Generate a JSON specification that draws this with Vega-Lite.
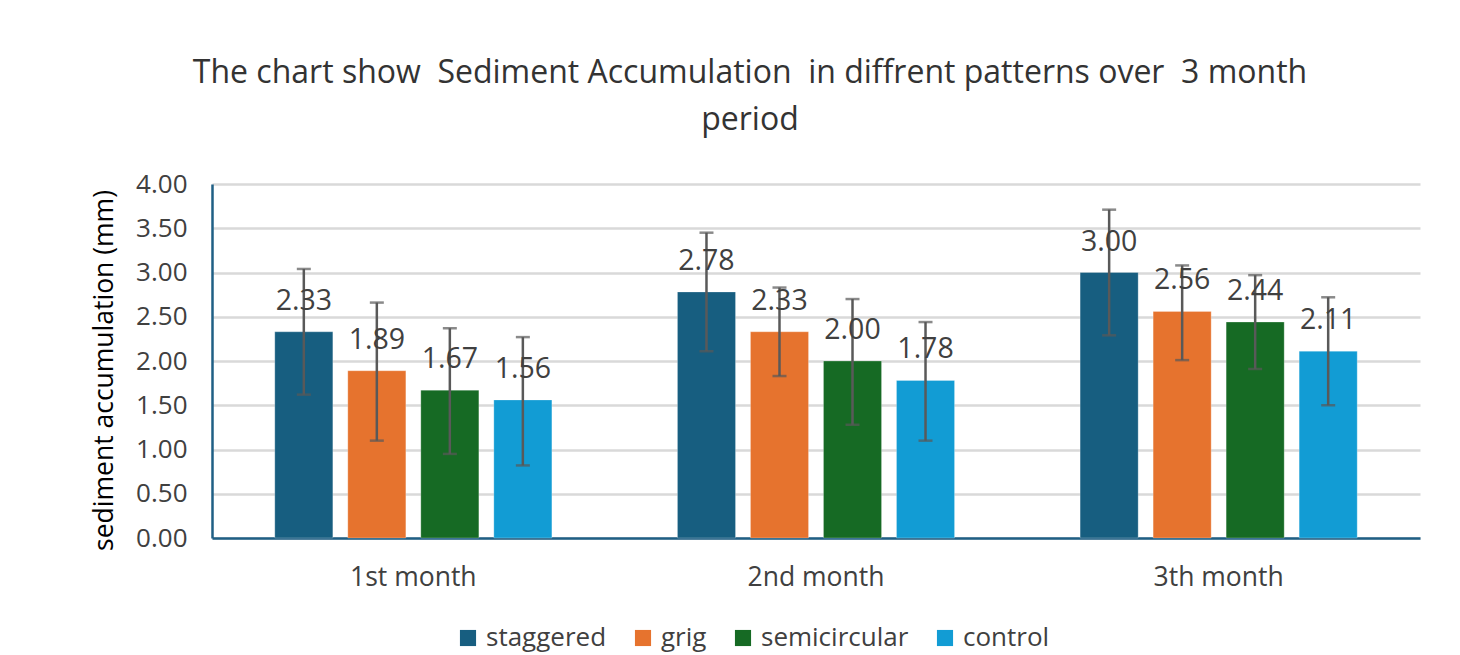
{
  "$schema": "https://vega.github.io/schema/vega-lite/v6.json",
  "autosize": {"type": "none"},
  "width": 1208,
  "height": 354,
  "padding": {"left": 212, "top": 184, "right": 40, "bottom": 117},
  "background": "white",
  "title": {
    "text": ["The chart show \u00a0Sediment Accumulation \u00a0in diffrent patterns over \u00a03 month", "period"],
    "font": "Open Sans",
    "fontSize": 32,
    "fontWeight": "normal",
    "color": "#333333",
    "anchor": "middle",
    "dx": -66,
    "offset": 34,
    "lineHeight": 47
  },
  "data": {
    "values": [
      {"month": "1st month", "pattern": "staggered", "value": 2.33, "lower": 1.62, "upper": 3.04},
      {"month": "1st month", "pattern": "grig", "value": 1.89, "lower": 1.10, "upper": 2.66},
      {"month": "1st month", "pattern": "semicircular", "value": 1.67, "lower": 0.95, "upper": 2.37},
      {"month": "1st month", "pattern": "control", "value": 1.56, "lower": 0.82, "upper": 2.27},
      {"month": "2nd month", "pattern": "staggered", "value": 2.78, "lower": 2.11, "upper": 3.45},
      {"month": "2nd month", "pattern": "grig", "value": 2.33, "lower": 1.83, "upper": 2.83},
      {"month": "2nd month", "pattern": "semicircular", "value": 2.00, "lower": 1.28, "upper": 2.70},
      {"month": "2nd month", "pattern": "control", "value": 1.78, "lower": 1.10, "upper": 2.44},
      {"month": "3th month", "pattern": "staggered", "value": 3.00, "lower": 2.29, "upper": 3.71},
      {"month": "3th month", "pattern": "grig", "value": 2.56, "lower": 2.01, "upper": 3.08},
      {"month": "3th month", "pattern": "semicircular", "value": 2.44, "lower": 1.91, "upper": 2.97},
      {"month": "3th month", "pattern": "control", "value": 2.11, "lower": 1.50, "upper": 2.72}
    ]
  },
  "encoding": {
    "x": {
      "field": "month", "type": "nominal", "sort": null,
      "scale": {"paddingInner": 0, "paddingOuter": 0},
      "axis": {
        "title": null, "labelAngle": 0, "labelFont": "Open Sans", "labelFontSize": 26.5,
        "labelColor": "#404040", "labelPadding": 26, "ticks": false,
        "domainColor": "#1f5f85", "domainWidth": 2.5, "grid": false
      }
    },
    "xOffset": {
      "field": "pattern", "type": "nominal", "sort": ["staggered", "grig", "semicircular", "control"],
      "scale": {"paddingInner": 0.205, "paddingOuter": 0.86}
    }
  },
  "layer": [
    {
      "mark": {"type": "bar", "stroke": "white", "strokeWidth": 0.5, "strokeOpacity": 0.5},
      "encoding": {
        "y": {
          "field": "value", "type": "quantitative",
          "scale": {"domain": [0, 4]},
          "axis": {
            "title": "sediment accumulation (mm)", "titleFont": "Open Sans", "titleFontSize": 26.5,
            "titleFontWeight": "normal", "titleColor": "#000000", "titlePadding": 17, "titleY": 186,
            "values": [0, 0.5, 1, 1.5, 2, 2.5, 3, 3.5, 4], "format": ".2f",
            "labelFont": "Open Sans", "labelFontSize": 26, "labelColor": "#404040",
            "labelPadding": 25, "ticks": false,
            "domainColor": "#1f5f85", "domainWidth": 2.5,
            "gridColor": "#d9d9d9", "gridWidth": 2.5
          }
        },
        "color": {
          "field": "pattern", "type": "nominal",
          "sort": ["staggered", "grig", "semicircular", "control"],
          "scale": {"domain": ["staggered", "grig", "semicircular", "control"], "range": ["#175e80", "#e6732e", "#166a24", "#129cd4"]},
          "legend": {
            "title": null, "orient": "none", "direction": "horizontal",
            "legendX": 243, "legendY": 441,
            "symbolType": "square", "symbolSize": 260, "symbolStrokeWidth": 0,
            "labelFont": "Open Sans", "labelFontSize": 26, "labelColor": "#404040",
            "columnPadding": 23, "labelOffset": 5
          }
        }
      }
    },
    {
      "mark": {"type": "rule", "color": "#595959", "strokeWidth": 2.5},
      "encoding": {
        "y": {"field": "lower", "type": "quantitative"},
        "y2": {"field": "upper"}
      }
    },
    {
      "mark": {"type": "tick", "color": "#595959", "thickness": 2.5, "size": 14},
      "encoding": {"y": {"field": "lower", "type": "quantitative"}}
    },
    {
      "mark": {"type": "tick", "color": "#595959", "thickness": 2.5, "size": 14},
      "encoding": {"y": {"field": "upper", "type": "quantitative"}}
    },
    {
      "mark": {"type": "text", "font": "Open Sans", "fontSize": 28.5, "color": "#404040", "baseline": "alphabetic", "dy": -22},
      "encoding": {
        "y": {"field": "value", "type": "quantitative"},
        "text": {"field": "value", "type": "quantitative", "format": ".2f"}
      }
    }
  ],
  "config": {"view": {"stroke": null}}
}
